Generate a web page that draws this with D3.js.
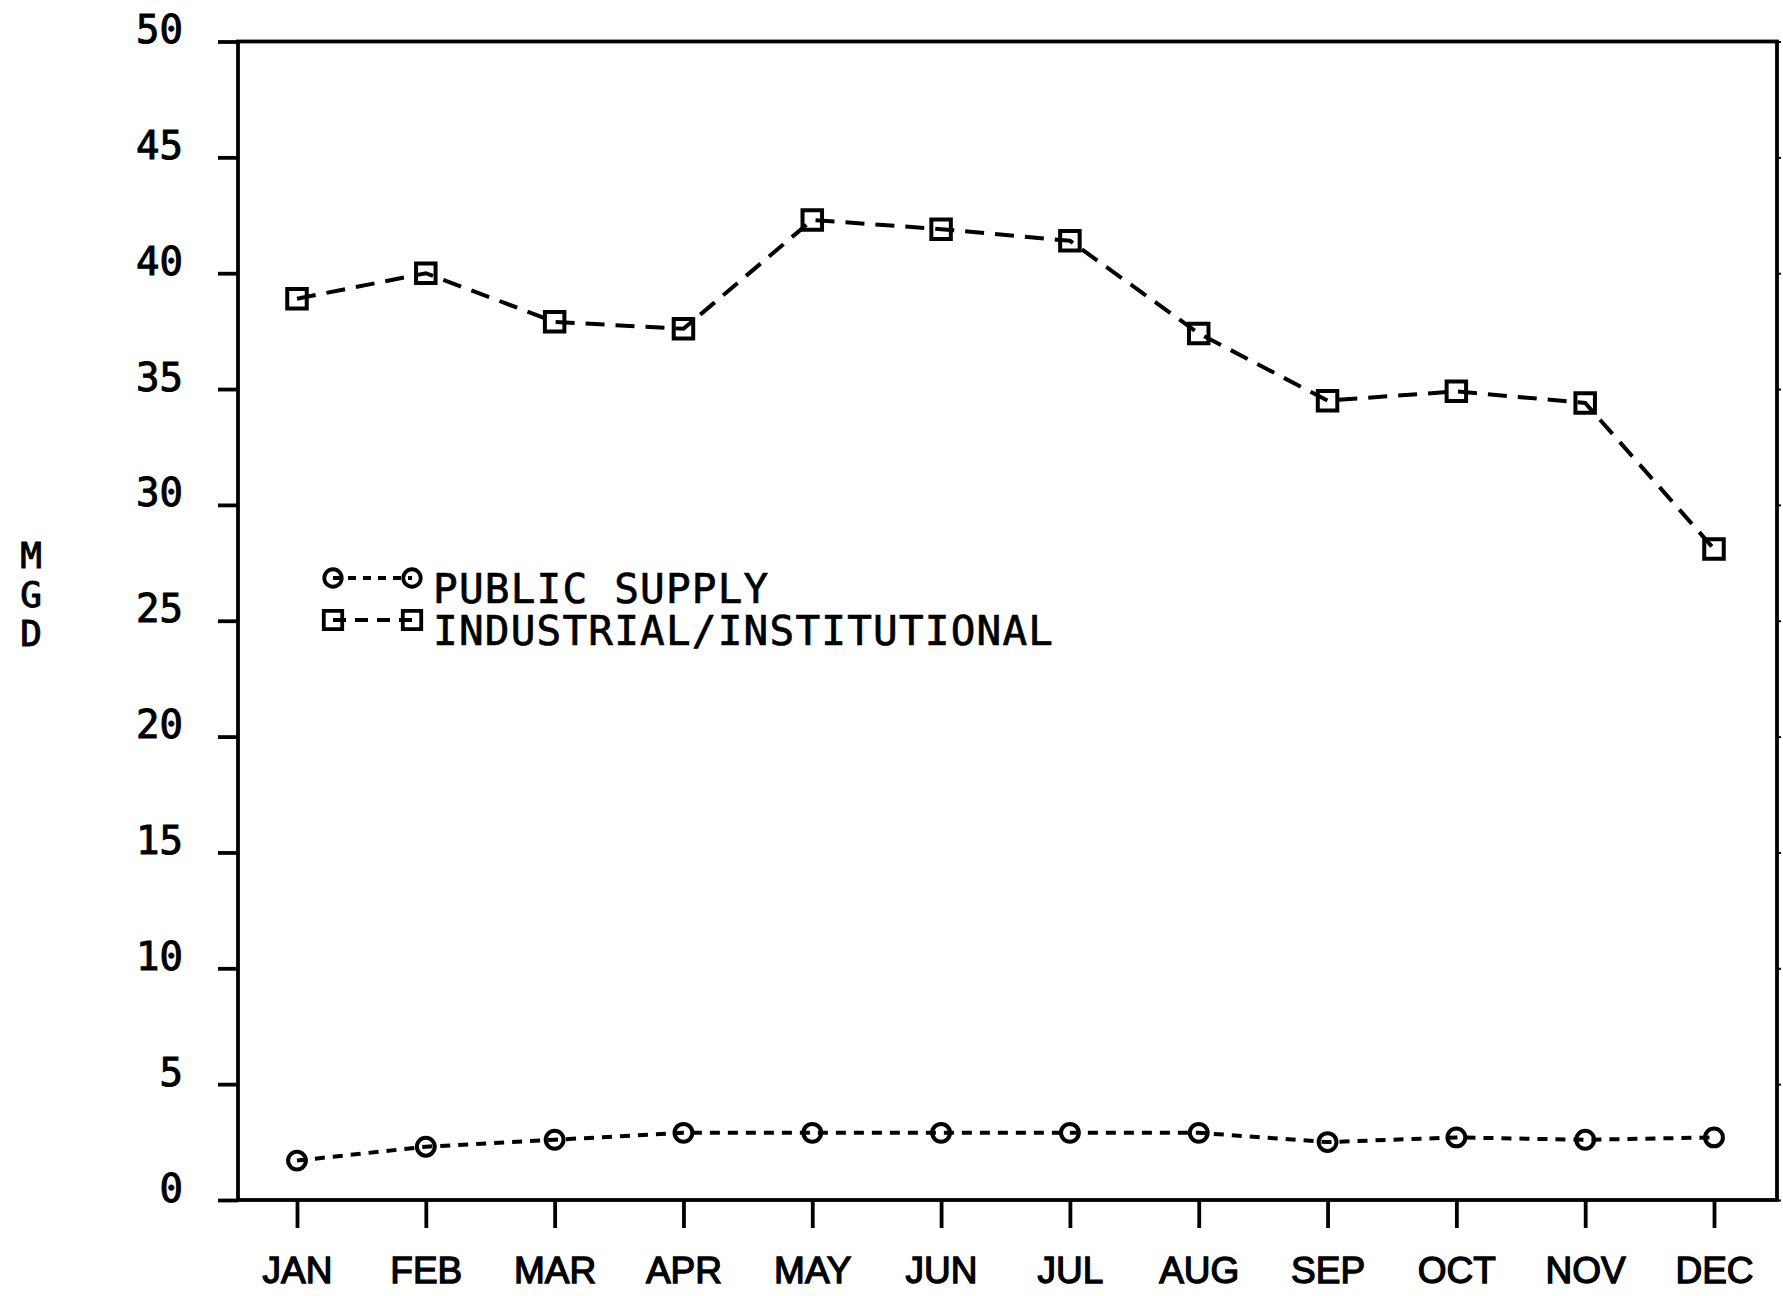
<!DOCTYPE html>
<html>
<head>
<meta charset="utf-8">
<title>MGD by month</title>
<script src="https://d3js.org/d3.v7.min.js"></script>
<style>
  body { margin: 0; background: #fff; }
  svg { display: block; }
</style>
</head>
<body>
<script>
// data
var months = ["JAN","FEB","MAR","APR","MAY","JUN","JUL","AUG","SEP","OCT","NOV","DEC"];
var publicSupply = [1.7, 2.3, 2.6, 2.9, 2.9, 2.9, 2.9, 2.9, 2.5, 2.7, 2.6, 2.7];
var industrial = [38.9, 40.0, 37.9, 37.6, 42.3, 41.9, 41.4, 37.4, 34.5, 34.9, 34.4, 28.1];
var yTicks = [0, 5, 10, 15, 20, 25, 30, 35, 40, 45, 50];
var yTitle = ["M", "G", "D"];
var legendNames = ["PUBLIC SUPPLY", "INDUSTRIAL/INSTITUTIONAL"];

var W = 1783, H = 1296;
var plotLeft = 238, plotRight = 1777, plotTop = 41.5, plotBottom = 1200;
var plotFont = "'DejaVu Sans Mono', monospace";

var svg = d3.select("body").append("svg")
    .attr("width", W)
    .attr("height", H);

var x = d3.scalePoint().domain(months).range([297, 1714]);
var y = d3.scaleLinear().domain([0, 50]).range([plotBottom, plotTop]);

// frame
svg.append("rect")
    .attr("x", plotLeft).attr("y", plotTop)
    .attr("width", plotRight - plotLeft).attr("height", plotBottom - plotTop)
    .attr("fill", "none")
    .attr("stroke", "#000")
    .attr("stroke-width", 3.8);

// y axis
var yAxis = svg.append("g")
    .attr("transform", "translate(" + plotLeft + ",0)")
    .call(d3.axisLeft(y).tickValues(yTicks).tickSize(20).tickSizeOuter(0).tickPadding(35));
yAxis.select(".domain").remove();
yAxis.selectAll("line").attr("stroke", "#000").attr("stroke-width", 3.8);
yAxis.selectAll("text")
    .attr("dy", 0)
    .attr("y", 1)
    .style("font-family", plotFont)
    .style("font-size", "39px")
    .attr("fill", "#000")
    .attr("stroke", "#000")
    .attr("stroke-width", 1);

// tiny marks on right border
var rAxis = svg.append("g")
    .attr("transform", "translate(" + plotRight + ",0)")
    .call(d3.axisRight(y).tickValues(yTicks).tickSize(4).tickFormat(""));
rAxis.select(".domain").remove();
rAxis.selectAll("line").attr("stroke", "#000").attr("stroke-width", 2);

// x axis
var xAxis = svg.append("g")
    .attr("transform", "translate(0," + plotBottom + ")")
    .call(d3.axisBottom(x).tickSize(28).tickSizeOuter(0));
xAxis.select(".domain").remove();
xAxis.selectAll("line").attr("stroke", "#000").attr("stroke-width", 3.8);
xAxis.selectAll("text")
    .attr("y", 83)
    .attr("dy", 0)
    .style("font-family", "'Liberation Sans', Arial, sans-serif")
    .style("font-size", "37px")
    .attr("fill", "#000")
    .attr("stroke", "#000")
    .attr("stroke-width", 1.3);

// y title, letters stacked
svg.append("g").selectAll("text")
    .data(yTitle)
    .enter().append("text")
    .attr("x", 31)
    .attr("y", function(d, i) { return 568 + i * 39; })
    .attr("text-anchor", "middle")
    .style("font-family", plotFont)
    .style("font-size", "36px")
    .attr("stroke", "#000")
    .attr("stroke-width", 1)
    .text(function(d) { return d; });

var line = d3.line()
    .x(function(d, i) { return x(months[i]); })
    .y(function(d) { return y(d); });

function drawSeries(values, dash, shape) {
    var g = svg.append("g");
    g.append("path")
        .datum(values)
        .attr("d", line)
        .attr("fill", "none")
        .attr("stroke", "#000")
        .attr("stroke-width", 4)
        .attr("stroke-dasharray", dash);
    var sym = d3.symbol().type(shape === "circle" ? d3.symbolCircle : d3.symbolSquare)
        .size(shape === "circle" ? 250 : 380);
    g.selectAll(".mark")
        .data(values)
        .enter().append("path")
        .attr("class", "mark")
        .attr("transform", function(d, i) { return "translate(" + x(months[i]) + "," + y(d) + ")"; })
        .attr("d", sym)
        .attr("fill", "none")
        .attr("stroke", "#000")
        .attr("stroke-width", 4);
}

drawSeries(publicSupply, "10,8", "circle");
drawSeries(industrial, "19,11", "square");

// legend
var legend = svg.append("g");
var legendRows = [
    { name: legendNames[0], shape: "circle", dash: "8,7", y: 578 },
    { name: legendNames[1], shape: "square", dash: "13,9", y: 620 }
];
legendRows.forEach(function(r) {
    legend.append("line")
        .attr("x1", 333).attr("x2", 412)
        .attr("y1", r.y).attr("y2", r.y)
        .attr("stroke", "#000")
        .attr("stroke-width", 3.8)
        .attr("stroke-dasharray", r.dash);
    var sym = d3.symbol().type(r.shape === "circle" ? d3.symbolCircle : d3.symbolSquare)
        .size(r.shape === "circle" ? 240 : 340);
    [333, 412].forEach(function(px) {
        legend.append("path")
            .attr("transform", "translate(" + px + "," + r.y + ")")
            .attr("d", sym)
            .attr("fill", "none")
            .attr("stroke", "#000")
            .attr("stroke-width", 3.8);
    });
    legend.append("text")
        .attr("x", 433)
        .attr("y", r.y + 25)
        .style("font-family", plotFont)
        .style("font-size", "41px")
        .style("letter-spacing", "1.2px")
        .attr("stroke", "#000")
        .attr("stroke-width", 0.7)
        .text(r.name);
});
</script>
</body>
</html>
